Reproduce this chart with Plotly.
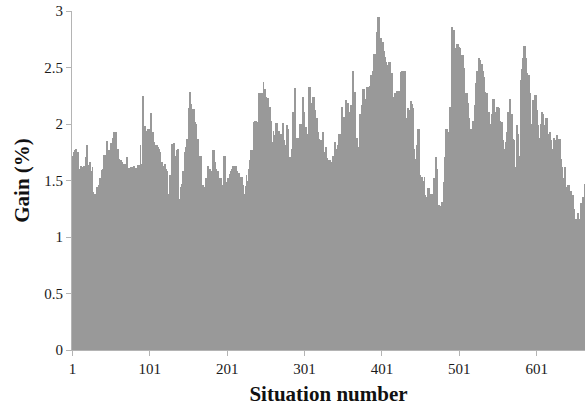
import plotly.graph_objects as go

# Gain (%) per situation
gain = [
    1.68,1.72,1.75,1.77,1.72,1.78,1.75,1.75,1.65,1.60,
    1.60,1.63,1.62,1.60,1.50,1.63,1.63,1.71,1.71,1.81,
    1.64,1.64,1.66,1.66,1.58,1.58,1.62,1.40,1.38,1.38,
    1.34,1.34,1.44,1.44,1.46,1.46,1.52,1.52,1.59,1.60,
    1.60,1.73,1.73,1.50,1.85,1.85,1.77,1.77,1.75,1.75,
    1.83,1.83,1.88,1.93,1.93,1.93,1.93,1.87,1.78,1.78,
    1.69,1.69,1.68,1.68,1.66,1.63,1.63,1.65,1.65,1.61,
    1.71,1.71,1.61,1.61,1.59,1.59,1.62,1.62,1.47,1.63,
    1.63,1.61,1.61,1.53,1.64,1.64,1.64,1.64,1.81,1.65,
    1.65,2.25,2.25,1.98,1.98,1.94,1.90,1.90,1.96,1.96,
    1.93,1.93,2.10,1.93,1.93,1.84,1.84,1.59,1.81,1.81,
    1.80,1.80,1.78,1.75,1.65,1.65,1.66,1.63,1.63,1.65,
    1.65,1.60,1.58,1.58,1.38,1.38,1.55,1.55,1.63,1.82,
    1.82,1.83,1.83,1.72,1.72,1.77,1.78,1.78,1.34,1.34,
    1.44,1.44,1.47,1.58,1.58,1.75,1.75,1.80,1.87,1.87,
    2.14,2.14,2.28,2.18,2.03,2.03,2.13,2.13,2.02,2.02,
    2.00,1.87,1.87,1.60,1.60,1.72,1.72,1.71,1.46,1.46,
    1.44,1.44,1.29,1.52,1.52,1.63,1.63,1.60,1.60,1.55,
    1.58,1.58,1.77,1.77,1.66,1.66,1.60,1.58,1.58,1.46,
    1.46,1.52,1.52,1.46,1.41,1.41,1.72,1.72,1.38,1.49,
    1.49,1.52,1.52,1.56,1.56,1.58,1.60,1.60,1.63,1.63,
    1.63,1.63,1.58,1.58,1.57,1.57,1.56,1.52,1.53,1.53,
    1.46,1.46,1.38,1.38,1.45,1.55,1.50,1.47,1.60,1.68,
    1.68,1.77,1.77,1.68,1.68,2.02,2.03,2.03,1.91,1.91,
    2.02,2.27,2.27,2.17,2.17,2.27,2.27,2.37,2.31,2.31,
    2.24,2.17,2.17,2.23,2.15,2.15,2.03,2.03,1.84,1.84,
    1.94,1.90,1.90,2.01,2.01,1.90,1.90,1.94,1.91,1.91,
    1.91,1.91,2.01,1.86,1.86,1.81,1.81,1.99,1.99,1.96,
    1.71,1.71,1.71,1.71,1.78,2.11,2.11,2.32,2.32,1.88,
    1.88,1.88,1.88,1.88,2.00,2.00,1.87,1.87,2.24,2.11,
    2.11,1.97,1.97,1.91,1.91,2.05,2.33,2.33,2.19,2.19,
    2.17,2.24,2.24,2.12,2.12,2.05,2.05,1.93,1.87,1.87,
    1.86,1.86,1.65,1.65,1.93,1.75,1.75,1.80,1.80,1.70,
    1.68,1.68,1.68,1.68,1.66,1.66,1.66,1.72,1.72,1.84,
    1.84,1.78,1.78,1.81,1.91,1.91,1.91,1.87,2.15,2.15,
    2.06,2.06,1.80,2.21,2.21,2.19,2.19,2.09,2.09,2.11,
    2.17,2.17,2.47,2.47,2.28,2.28,1.96,1.88,1.88,1.80,
    1.80,1.94,2.09,2.09,2.17,2.17,2.31,2.31,2.06,2.22,
    2.22,2.33,2.33,2.27,2.27,2.34,2.43,2.43,2.47,2.47,
    2.62,2.62,2.59,2.81,2.81,2.95,2.95,2.86,2.76,2.76,
    2.73,2.73,2.65,2.65,2.59,2.55,2.55,2.52,2.52,2.55,
    2.55,2.49,2.45,2.45,2.24,2.24,2.03,2.27,2.27,2.29,
    2.29,2.29,2.29,2.08,2.46,2.46,2.47,2.47,2.37,2.37,
    2.47,2.05,2.05,2.14,2.14,2.12,2.12,2.20,2.20,2.18,
    2.14,2.14,1.78,1.69,1.69,1.81,1.81,1.96,1.96,1.55,
    1.50,1.46,1.53,1.46,1.50,1.53,1.37,1.35,1.35,1.35,
    1.43,1.43,1.38,1.38,1.38,1.38,1.38,1.52,1.52,1.25,
    1.71,1.60,1.60,1.28,1.28,1.27,1.21,1.21,1.31,1.31,
    1.49,1.49,1.71,1.96,1.96,1.87,1.87,1.93,2.15,2.15,
    2.86,2.86,2.83,2.83,2.53,2.67,2.67,2.71,2.71,2.68,
    2.68,2.67,2.52,2.52,2.61,2.61,2.50,2.27,2.27,2.27,
    2.27,2.19,2.19,2.05,1.96,1.96,1.75,1.75,2.03,2.03,
    2.17,2.36,2.36,2.47,2.47,2.58,2.58,2.57,2.53,2.53,
    2.47,2.47,2.42,2.28,2.28,2.27,2.27,2.11,2.11,2.09,
    2.00,2.00,2.09,2.09,2.22,2.22,2.00,2.11,2.11,2.15,
    2.15,2.14,2.03,2.03,2.02,2.02,1.86,1.86,1.78,1.78,
    1.84,1.84,1.93,2.11,2.11,2.22,2.22,2.09,2.09,1.87,
    1.86,1.86,1.62,1.62,1.99,1.99,1.91,1.72,1.72,2.39,
    2.39,2.49,2.58,2.58,2.69,2.69,2.58,2.58,2.45,2.43,
    2.43,2.27,2.27,2.00,2.00,2.21,2.05,2.05,2.26,2.26,
    2.12,1.99,1.99,1.88,1.88,2.00,2.00,2.11,2.09,2.09,
    1.99,1.99,2.05,2.05,2.00,1.91,1.91,1.93,1.93,1.86,
    1.78,1.78,1.88,1.88,1.86,1.86,1.90,1.84,1.84,1.87,
    1.87,1.69,1.69,1.62,1.52,1.52,1.62,1.62,1.44,1.44,
    1.35,1.46,1.46,1.41,1.41,1.31,1.37,1.37,1.25,1.25,
    1.16,1.16,1.15,1.21,1.21,1.16,1.16,1.30,1.30,1.30,
    1.35,1.35,1.47,
]
situation = list(range(1, len(gain) + 1))

x_tick_labels = ["1", "101", "201", "301", "401", "501", "601"]
x_tick_values = [int(t) for t in x_tick_labels]
y_tick_values = [0, 0.5, 1, 1.5, 2, 2.5, 3]
y_tick_labels = ["0", "0.5", "1", "1.5", "2", "2.5", "3"]

FONT = "Liberation Serif"
AXIS_GREY = "#b4b4b4"

fig = go.Figure(
    go.Bar(
        x=situation,
        y=gain,
        marker=dict(color="#999999", line=dict(width=0)),
        hoverinfo="x+y",
    )
)

fig.update_layout(
    width=585,
    height=408,
    margin=dict(l=72, r=0, t=11, b=58),
    paper_bgcolor="white",
    plot_bgcolor="white",
    bargap=0,
    showlegend=False,
    font=dict(family=FONT, size=15, color="#1a1a1a"),
)

fig.update_xaxes(
    range=[0.5, len(gain) + 0.5],
    tickmode="array",
    tickvals=x_tick_values,
    ticktext=x_tick_labels,
    ticks="outside",
    ticklen=5,
    tickcolor=AXIS_GREY,
    showline=True,
    linecolor=AXIS_GREY,
    linewidth=1,
    showgrid=False,
    zeroline=False,
    tickfont=dict(family=FONT, size=15, color="#1a1a1a"),
    title=dict(text="<b>Situation number</b>", font=dict(family=FONT, size=21, color="#111111"), standoff=10),
    automargin=False,
)

fig.update_yaxes(
    range=[0, 3],
    tickmode="array",
    tickvals=y_tick_values,
    ticktext=y_tick_labels,
    ticks="outside",
    ticklen=5,
    tickcolor=AXIS_GREY,
    showline=True,
    linecolor=AXIS_GREY,
    linewidth=1,
    showgrid=False,
    zeroline=False,
    tickfont=dict(family=FONT, size=15, color="#1a1a1a"),
    title=dict(text="<b>Gain (%)</b>", font=dict(family=FONT, size=21, color="#111111"), standoff=8),
    automargin=False,
)

fig.write_html(
    "out.html",
    config={"displayModeBar": False},
    post_script="document.body.style.margin='0';document.body.style.overflow='hidden';",
)
